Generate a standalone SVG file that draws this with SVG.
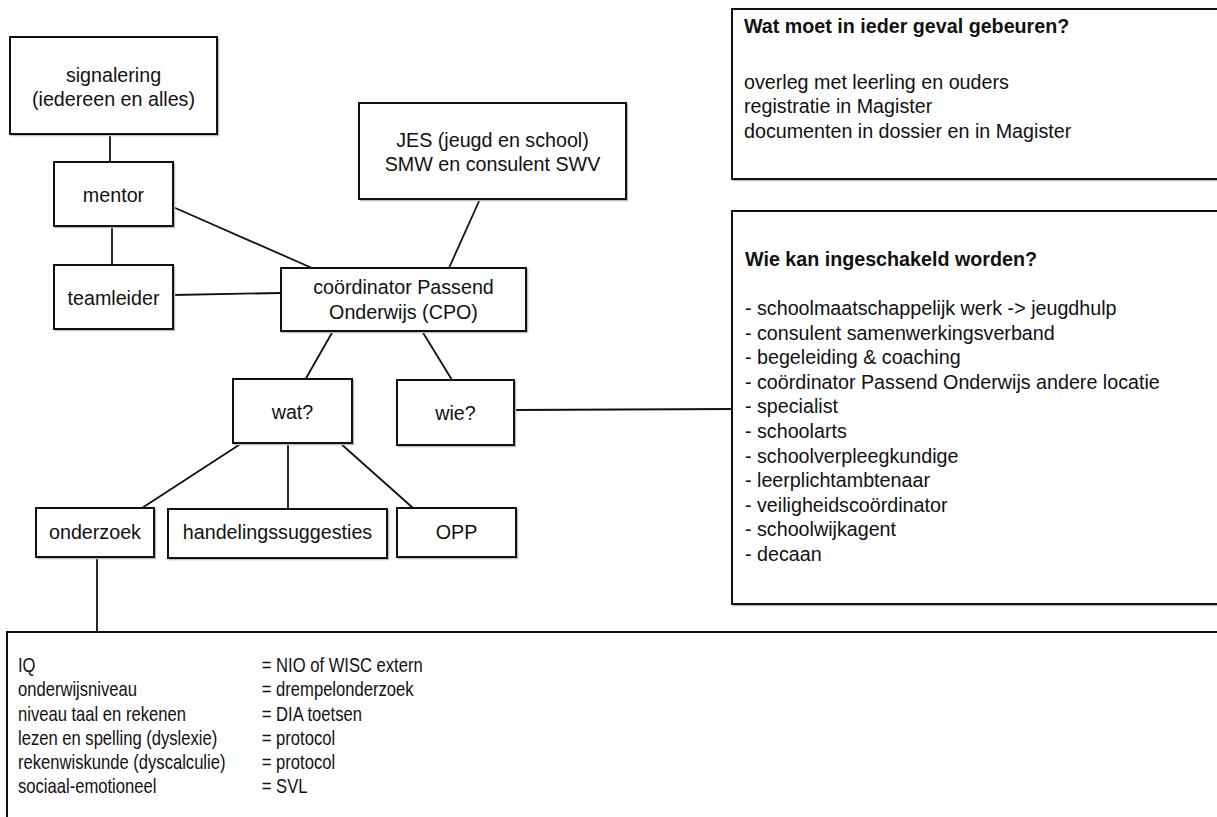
<svg xmlns="http://www.w3.org/2000/svg" width="1217" height="817" viewBox="0 0 1217 817">
<style>
  .box{fill:#fff;stroke:#111;stroke-width:2}
  .sh{fill:none;stroke:#bdbdbd;stroke-width:1.5}
  .t{font-family:"Liberation Sans",Arial,sans-serif;font-size:19.7px;fill:#111}
  .c{text-anchor:middle}
  .b{font-weight:bold}
  .bt{font-family:"Liberation Sans",Arial,sans-serif;font-size:20.5px;fill:#111}
  #connectors line{stroke:#111;stroke-width:1.8;fill:none}
</style>
<rect width="1217" height="817" fill="#fff"/>
<g id="connectors">
  <line x1="110" y1="134" x2="110" y2="162"/>
  <line x1="112" y1="226" x2="112" y2="265"/>
  <line x1="173" y1="207" x2="312" y2="268"/>
  <line x1="173" y1="295" x2="281" y2="293"/>
  <line x1="480" y1="199" x2="449" y2="268"/>
  <line x1="333" y1="331" x2="305" y2="380"/>
  <line x1="422" y1="331" x2="452" y2="380"/>
  <line x1="514" y1="410" x2="732" y2="409"/>
  <line x1="242" y1="443" x2="142" y2="508"/>
  <line x1="288" y1="443" x2="288" y2="509"/>
  <line x1="340" y1="443" x2="413" y2="508"/>
  <line x1="97" y1="557" x2="97" y2="632"/>
</g>
<g id="signalering">
  <rect class="sh" x="11.5" y="38.5" width="207" height="97"/>
  <rect class="box" x="10" y="37" width="207" height="97"/>
  <text class="t c" x="113.5" y="82">signalering</text>
  <text class="t c" x="113.5" y="106">(iedereen en alles)</text>
</g>
<g id="mentor">
  <rect class="sh" x="55.5" y="163.5" width="119" height="64"/>
  <rect class="box" x="54" y="162" width="119" height="64"/>
  <text class="t c" x="113.5" y="202">mentor</text>
</g>
<g id="teamleider">
  <rect class="sh" x="55.5" y="266.5" width="119" height="64"/>
  <rect class="box" x="54" y="265" width="119" height="64"/>
  <text class="t c" x="113.5" y="305">teamleider</text>
</g>
<g id="jes">
  <rect class="sh" x="360.5" y="104.5" width="267" height="96"/>
  <rect class="box" x="359" y="103" width="267" height="96"/>
  <text class="t c" x="492.5" y="147">JES (jeugd en school)</text>
  <text class="t c" x="492.5" y="171">SMW en consulent SWV</text>
</g>
<g id="cpo">
  <rect class="sh" x="282.5" y="269.5" width="245" height="63"/>
  <rect class="box" x="281" y="268" width="245" height="63"/>
  <text class="t c" x="403.5" y="294">coördinator Passend</text>
  <text class="t c" x="403.5" y="319">Onderwijs (CPO)</text>
</g>
<g id="wat">
  <rect class="sh" x="234.5" y="380.5" width="119" height="64"/>
  <rect class="box" x="233" y="379" width="119" height="64"/>
  <text class="t c" x="292.5" y="419">wat?</text>
</g>
<g id="wie">
  <rect class="sh" x="398.5" y="381.5" width="117" height="65"/>
  <rect class="box" x="397" y="380" width="117" height="65"/>
  <text class="t c" x="455.5" y="420">wie?</text>
</g>
<g id="onderzoek">
  <rect class="sh" x="37.5" y="509.5" width="118" height="49"/>
  <rect class="box" x="36" y="508" width="118" height="49"/>
  <text class="t c" x="95" y="539">onderzoek</text>
</g>
<g id="handelingssuggesties">
  <rect class="sh" x="169.5" y="510.5" width="219" height="49"/>
  <rect class="box" x="168" y="509" width="219" height="49"/>
  <text class="t c" x="277.5" y="539">handelingssuggesties</text>
</g>
<g id="opp">
  <rect class="sh" x="398.5" y="509.5" width="119" height="49"/>
  <rect class="box" x="397" y="508" width="119" height="49"/>
  <text class="t c" x="456.5" y="539">OPP</text>
</g>
<g id="wat-moet">
  <rect class="sh" x="733.5" y="10.5" width="500" height="170"/>
  <rect class="box" x="732" y="9" width="500" height="170"/>
  <text class="t b" x="744" y="33">Wat moet in ieder geval gebeuren?</text>
  <text class="t" x="744" y="89">overleg met leerling en ouders</text>
  <text class="t" x="744" y="113">registratie in Magister</text>
  <text class="t" x="744" y="138">documenten in dossier en in Magister</text>
</g>
<g id="wie-kan">
  <rect class="sh" x="733.5" y="212.5" width="500" height="393"/>
  <rect class="box" x="732" y="211" width="500" height="393"/>
  <text class="t b" x="745" y="266">Wie kan ingeschakeld worden?</text>
  <text class="t" x="745" y="315">- schoolmaatschappelijk werk -&gt; jeugdhulp</text>
  <text class="t" x="745" y="339.6">- consulent samenwerkingsverband</text>
  <text class="t" x="745" y="364.2">- begeleiding &amp; coaching</text>
  <text class="t" x="745" y="388.8">- coördinator Passend Onderwijs andere locatie</text>
  <text class="t" x="745" y="413.4">- specialist</text>
  <text class="t" x="745" y="438">- schoolarts</text>
  <text class="t" x="745" y="462.6">- schoolverpleegkundige</text>
  <text class="t" x="745" y="487.2">- leerplichtambtenaar</text>
  <text class="t" x="745" y="511.8">- veiligheidscoördinator</text>
  <text class="t" x="745" y="536.4">- schoolwijkagent</text>
  <text class="t" x="745" y="561">- decaan</text>
</g>
<g id="onderzoek-details">
  <rect class="sh" x="8.5" y="633.5" width="1220" height="200"/>
  <rect class="box" x="7" y="632" width="1220" height="200"/>
  <g transform="translate(18 0) scale(0.81 1)">
    <text class="bt" x="0" y="672">IQ</text>
    <text class="bt" x="0" y="696.3">onderwijsniveau</text>
    <text class="bt" x="0" y="720.6">niveau taal en rekenen</text>
    <text class="bt" x="0" y="744.9">lezen en spelling (dyslexie)</text>
    <text class="bt" x="0" y="769.2">rekenwiskunde (dyscalculie)</text>
    <text class="bt" x="0" y="793.5">sociaal-emotioneel</text>
    <text class="bt" x="301" y="672">= NIO of WISC extern</text>
    <text class="bt" x="301" y="696.3">= drempelonderzoek</text>
    <text class="bt" x="301" y="720.6">= DIA toetsen</text>
    <text class="bt" x="301" y="744.9">= protocol</text>
    <text class="bt" x="301" y="769.2">= protocol</text>
    <text class="bt" x="301" y="793.5">= SVL</text>
  </g>
</g>
</svg>
